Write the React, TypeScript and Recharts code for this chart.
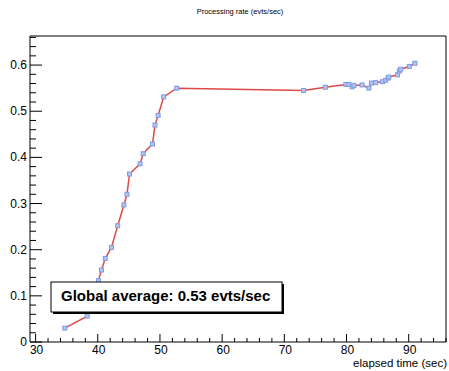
import React from "react";
import { LineChart, Line, XAxis, YAxis, ReferenceArea } from "recharts";

const elapsed = [34.7, 38.3, 40.1, 40.6, 41.2, 42.2, 43.2, 44.2, 44.7, 45.1, 46.8, 47.3, 48.8, 49.2, 49.7, 50.6, 52.7, 73.1, 76.6, 79.9, 80.4, 80.9, 81.2, 82.5, 83.6, 84.0, 84.7, 85.8, 86.3, 86.7, 86.8, 88.2, 88.5, 88.7, 90.1, 91.0];
const rate = [0.030, 0.056, 0.133, 0.156, 0.181, 0.205, 0.252, 0.297, 0.320, 0.364, 0.386, 0.408, 0.429, 0.470, 0.491, 0.531, 0.550, 0.545, 0.552, 0.558, 0.558, 0.553, 0.556, 0.557, 0.550, 0.561, 0.562, 0.564, 0.567, 0.572, 0.574, 0.579, 0.587, 0.591, 0.597, 0.604];

const xTicks: number[] = [];
for (let v = 30; v <= 96; v += 2) xTicks.push(v);
const yTicks: number[] = [];
for (let i = 0; i <= 33; i++) yTicks.push(Math.round(i * 2) / 100);
const xMajor = [30, 40, 50, 60, 70, 80, 90];
const yMajor = [0, 0.1, 0.2, 0.3, 0.4, 0.5, 0.6];

const title = "Processing rate (evts/sec)";
const xLabel = "elapsed time (sec)";
const avgText = "Global average: 0.53 evts/sec";

const data = elapsed.map((t, i) => ({ t, r: rate[i] }));

const FONT = "'Liberation Sans', Arial, Helvetica, sans-serif";

const XTick = (props: any) => {
  const { x, y, payload } = props;
  const v = payload.value;
  const major = xMajor.some((m) => Math.abs(m - v) < 1e-6);
  const len = major ? 8 : 4;
  return (
    <g>
      <path d={`M${x},${y}L${x},${y - len}`} stroke="#000" strokeWidth={1} fill="none" />
      {major && (
        <text x={x + 1} y={y + 12} textAnchor="middle" fontSize={12} fontFamily={FONT} fill="#000">
          {v}
        </text>
      )}
    </g>
  );
};

const YTick = (props: any) => {
  const { x, y, payload } = props;
  const v = payload.value;
  const major = yMajor.some((m) => Math.abs(m - v) < 1e-6);
  const len = major ? 12 : 6;
  return (
    <g>
      <path d={`M${x},${y}L${x + len},${y}`} stroke="#000" strokeWidth={1} fill="none" />
      {major && (
        <text x={x - 3} y={y + 4} textAnchor="end" fontSize={12} fontFamily={FONT} fill="#000">
          {v === 0 ? "0" : v.toFixed(1)}
        </text>
      )}
    </g>
  );
};

const SquareDot = (props: any) => {
  const { cx, cy, index } = props;
  return (
    <rect key={"d" + index} x={cx - 2} y={cy - 2} width={4} height={4} fill="#b3c4f0" stroke="#7d9be2" strokeWidth={1} />
  );
};

export default function App() {
  return (
    <div style={{ position: "absolute", left: 0, top: 0, width: 449, height: 371, background: "#fff" }}>
      <LineChart width={449} height={371} data={data} margin={{ top: 36, right: 3, left: 0, bottom: 0 }}>
        <ReferenceArea x1={29.1} x2={96} y1={0} y2={0.663} fill="none" stroke="#000" strokeWidth={1} ifOverflow="visible" />
        <XAxis
          type="number"
          dataKey="t"
          domain={[29.1, 96]}
          ticks={xTicks}
          interval={0}
          tickSize={0}
          tickMargin={0}
          axisLine={false}
          tick={<XTick />}
          height={29}
          allowDataOverflow
        />
        <YAxis
          type="number"
          domain={[0, 0.663]}
          ticks={yTicks}
          interval={0}
          tickSize={0}
          tickMargin={0}
          axisLine={false}
          tick={<YTick />}
          width={30}
          allowDataOverflow
        />
        <Line
          type="linear"
          dataKey="r"
          stroke="#dc4a48"
          strokeWidth={1.5}
          dot={<SquareDot />}
          isAnimationActive={false}
        />
      </LineChart>
      <svg width={449} height={371} style={{ position: "absolute", left: 0, top: 0, pointerEvents: "none" }}>
        <text x={240} y={14} textAnchor="middle" fontSize={7.5} fontFamily={FONT} fill="#000">
          {title}
        </text>
        <text x={447} y={367} textAnchor="end" fontSize={11.5} fontFamily={FONT} fill="#000">
          {xLabel}
        </text>
        <rect x={53} y={284} width={231} height={30} fill="#000" />
        <rect x={51} y={282} width={231} height={30} fill="#fff" stroke="#000" strokeWidth={1} />
        <text x={61} y={301} fontSize={15} fontWeight="bold" fontFamily={FONT} fill="#000">
          {avgText}
        </text>
      </svg>
    </div>
  );
}
